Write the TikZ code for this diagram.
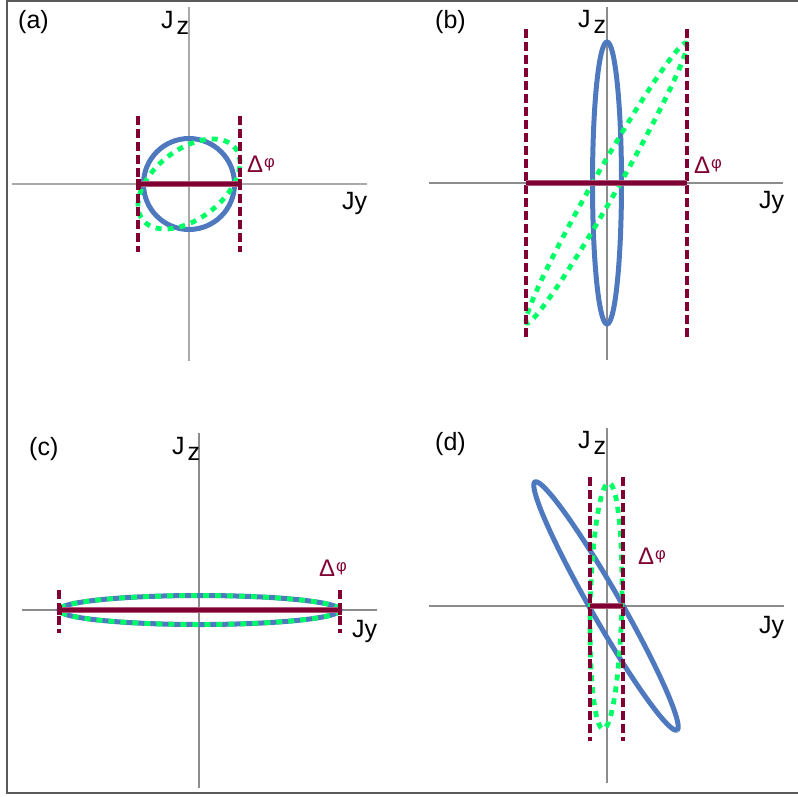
\documentclass[tikz,border=0pt]{standalone}
\usepackage{fontspec}
\setmainfont{Liberation Sans}
\definecolor{myblue}{RGB}{78,121,191}
\definecolor{mygreen}{RGB}{0,255,102}
\definecolor{mymaroon}{RGB}{128,0,51}
\definecolor{axisgray}{RGB}{140,140,140}
\definecolor{axislight}{RGB}{170,170,170}
\definecolor{framegray}{RGB}{90,90,90}
\tikzset{
  axisline/.style={draw=axisgray, line width=1.2pt},
  axislightline/.style={draw=axislight, line width=1.7pt},
  blueell/.style={draw=myblue, line width=5pt},
  greendot/.style={draw=mygreen, line width=4.8pt, dash pattern=on 6pt off 6pt},
  maroondash/.style={draw=mymaroon, line width=3.5pt, dash pattern=on 9pt off 4pt},
  barout/.style={draw=mymaroon!65, line width=6pt},
  barin/.style={draw=mymaroon, line width=3.6pt},
  barend/.style={fill=mymaroon, draw=none},
  lbl/.style={inner sep=0pt, anchor=base west, font=\fontsize{25}{28}\selectfont},
  axlbl/.style={inner sep=0pt, anchor=base west, font=\fontsize{25}{28}\selectfont},
  dlbl/.style={inner sep=0pt, anchor=base west, text=mymaroon, font=\fontsize{24}{28}\selectfont},
}
\newcommand{\jzlabel}{J\kern3pt\raisebox{-6pt}{z}}
\newcommand{\dphi}{Δ\kern1pt\raisebox{5pt}{\fontsize{16.5}{18}\selectfont φ}}
\begin{document}
\begin{tikzpicture}[x=1pt,y=-1pt]
\useasboundingbox (0,0) rectangle (798,796);
% frame
\draw[framegray, line width=2pt] (798,1) -- (7,1) -- (7,793) -- (798,793);

% ---------------- (a)
\coordinate (aT) at (189,7); \coordinate (aB) at (189,361);
\coordinate (aL) at (12,184); \coordinate (aR) at (367,184);
\draw[axislightline] (aT) -- (aB);
\draw[axislightline] (aL) -- (aR);
\coordinate (aC) at (189,184);
\draw[blueell] (aC) circle[radius=45.5];
\draw[greendot] plot[domain=0:360, samples=120, smooth, variable=\t] ({189+51*cos(\t)}, {184-45*cos(\t-62)});
\coordinate (ad1t) at (138,116); \coordinate (ad1b) at (138,252);
\coordinate (ad2t) at (240,116); \coordinate (ad2b) at (240,252);
\draw[maroondash] (ad1t) -- (ad1b);
\draw[maroondash] (ad2t) -- (ad2b);
\coordinate (abarL) at (138,184); \coordinate (abarR) at (240,184);
\draw[barout] (abarL) -- (abarR);
\draw[barin] (abarL) -- (abarR);
\fill[barend] (136,179) rectangle (140.5,189);
\fill[barend] (237.5,179) rectangle (242,189);
\node[lbl] (alab) at (18,28) {(a)};
\node[axlbl] (ajz) at (161,28) {\jzlabel};
\node[axlbl] (ajy) at (342,209) {Jy};
\node[dlbl] (adp) at (247,172) {\dphi};

% ---------------- (b)
\coordinate (bT) at (607,7); \coordinate (bB) at (607,360);
\coordinate (bL) at (429,183); \coordinate (bR) at (783,183);
\draw[axisline] (bT) -- (bB);
\draw[axisline] (bL) -- (bR);
\coordinate (bC) at (607,183);
\draw[blueell] (bC) ellipse[x radius=14.5, y radius=141];
\draw[greendot] plot[domain=0:360, samples=160, smooth, variable=\t] ({606.5+80.5*cos(\t)}, {183-140*cos(\t-10)});
\coordinate (bd1t) at (526,29); \coordinate (bd1b) at (526,338);
\coordinate (bd2t) at (687,29); \coordinate (bd2b) at (687,338);
\draw[maroondash] (bd1t) -- (bd1b);
\draw[maroondash] (bd2t) -- (bd2b);
\coordinate (bbarL) at (526,183); \coordinate (bbarR) at (687,183);
\draw[barout] (bbarL) -- (bbarR);
\draw[barin] (bbarL) -- (bbarR);
\node[lbl] (blab) at (435,28) {(b)};
\node[axlbl] (bjz) at (578,27) {\jzlabel};
\node[axlbl] (bjy) at (759,208) {Jy};
\node[dlbl] (bdp) at (694,173) {\dphi};

% ---------------- (c)
\coordinate (cT) at (199,433); \coordinate (cB) at (199,788);
\coordinate (cL) at (22,610); \coordinate (cR) at (377,610);
\draw[axisline] (cT) -- (cB);
\draw[axisline] (cL) -- (cR);
\coordinate (cC) at (199.5,610);
\draw[blueell] (cC) ellipse[x radius=140.5, y radius=14.5];
\draw[greendot] (cC) ellipse[x radius=140.5, y radius=14.5];
\coordinate (cd1t) at (59,590); \coordinate (cd1b) at (59,633);
\coordinate (cd2t) at (340,590); \coordinate (cd2b) at (340,633);
\draw[maroondash] (cd1t) -- (cd1b);
\draw[maroondash] (cd2t) -- (cd2b);
\coordinate (cbarL) at (59,610); \coordinate (cbarR) at (340,610);
\draw[barout] (cbarL) -- (cbarR);
\draw[barin] (cbarL) -- (cbarR);
\fill[barend] (57,605) rectangle (61.5,615);
\fill[barend] (337.5,605) rectangle (342,615);
\node[lbl] (clab) at (29,455) {(c)};
\node[axlbl] (cjz) at (172,454) {\jzlabel};
\node[axlbl] (cjy) at (352,637) {Jy};
\node[dlbl] (cdp) at (319,576) {\dphi};

% ---------------- (d)
\coordinate (dT) at (607,428); \coordinate (dB) at (607,783);
\coordinate (dL) at (429,606); \coordinate (dR) at (784,606);
\draw[axisline] (dT) -- (dB);
\draw[axisline] (dL) -- (dR);
\draw[blueell] plot[domain=0:360, samples=160, smooth, variable=\t]
  ({606+143*cos(\t)*0.4965-15*sin(\t)*0.8671}, {606+143*cos(\t)*0.8671+15*sin(\t)*0.4965});
\draw[greendot] plot[domain=0:360, samples=160, smooth, variable=\t] ({606+16*cos(\t)}, {606-123*cos(\t-80)});
\coordinate (dd1t) at (590,477); \coordinate (dd1b) at (590,741);
\coordinate (dd2t) at (623,477); \coordinate (dd2b) at (623,741);
\draw[maroondash] (dd1t) -- (dd1b);
\draw[maroondash] (dd2t) -- (dd2b);
\coordinate (dbarL) at (590,606); \coordinate (dbarR) at (623,606);
\draw[barout] (dbarL) -- (dbarR);
\draw[barin] (dbarL) -- (dbarR);
\node[lbl] (dlab) at (435,450) {(d)};
\node[axlbl] (djz) at (578,448) {\jzlabel};
\node[axlbl] (djy) at (759,633) {Jy};
\node[dlbl] (ddp) at (638,564) {\dphi};
\end{tikzpicture}
\end{document}
